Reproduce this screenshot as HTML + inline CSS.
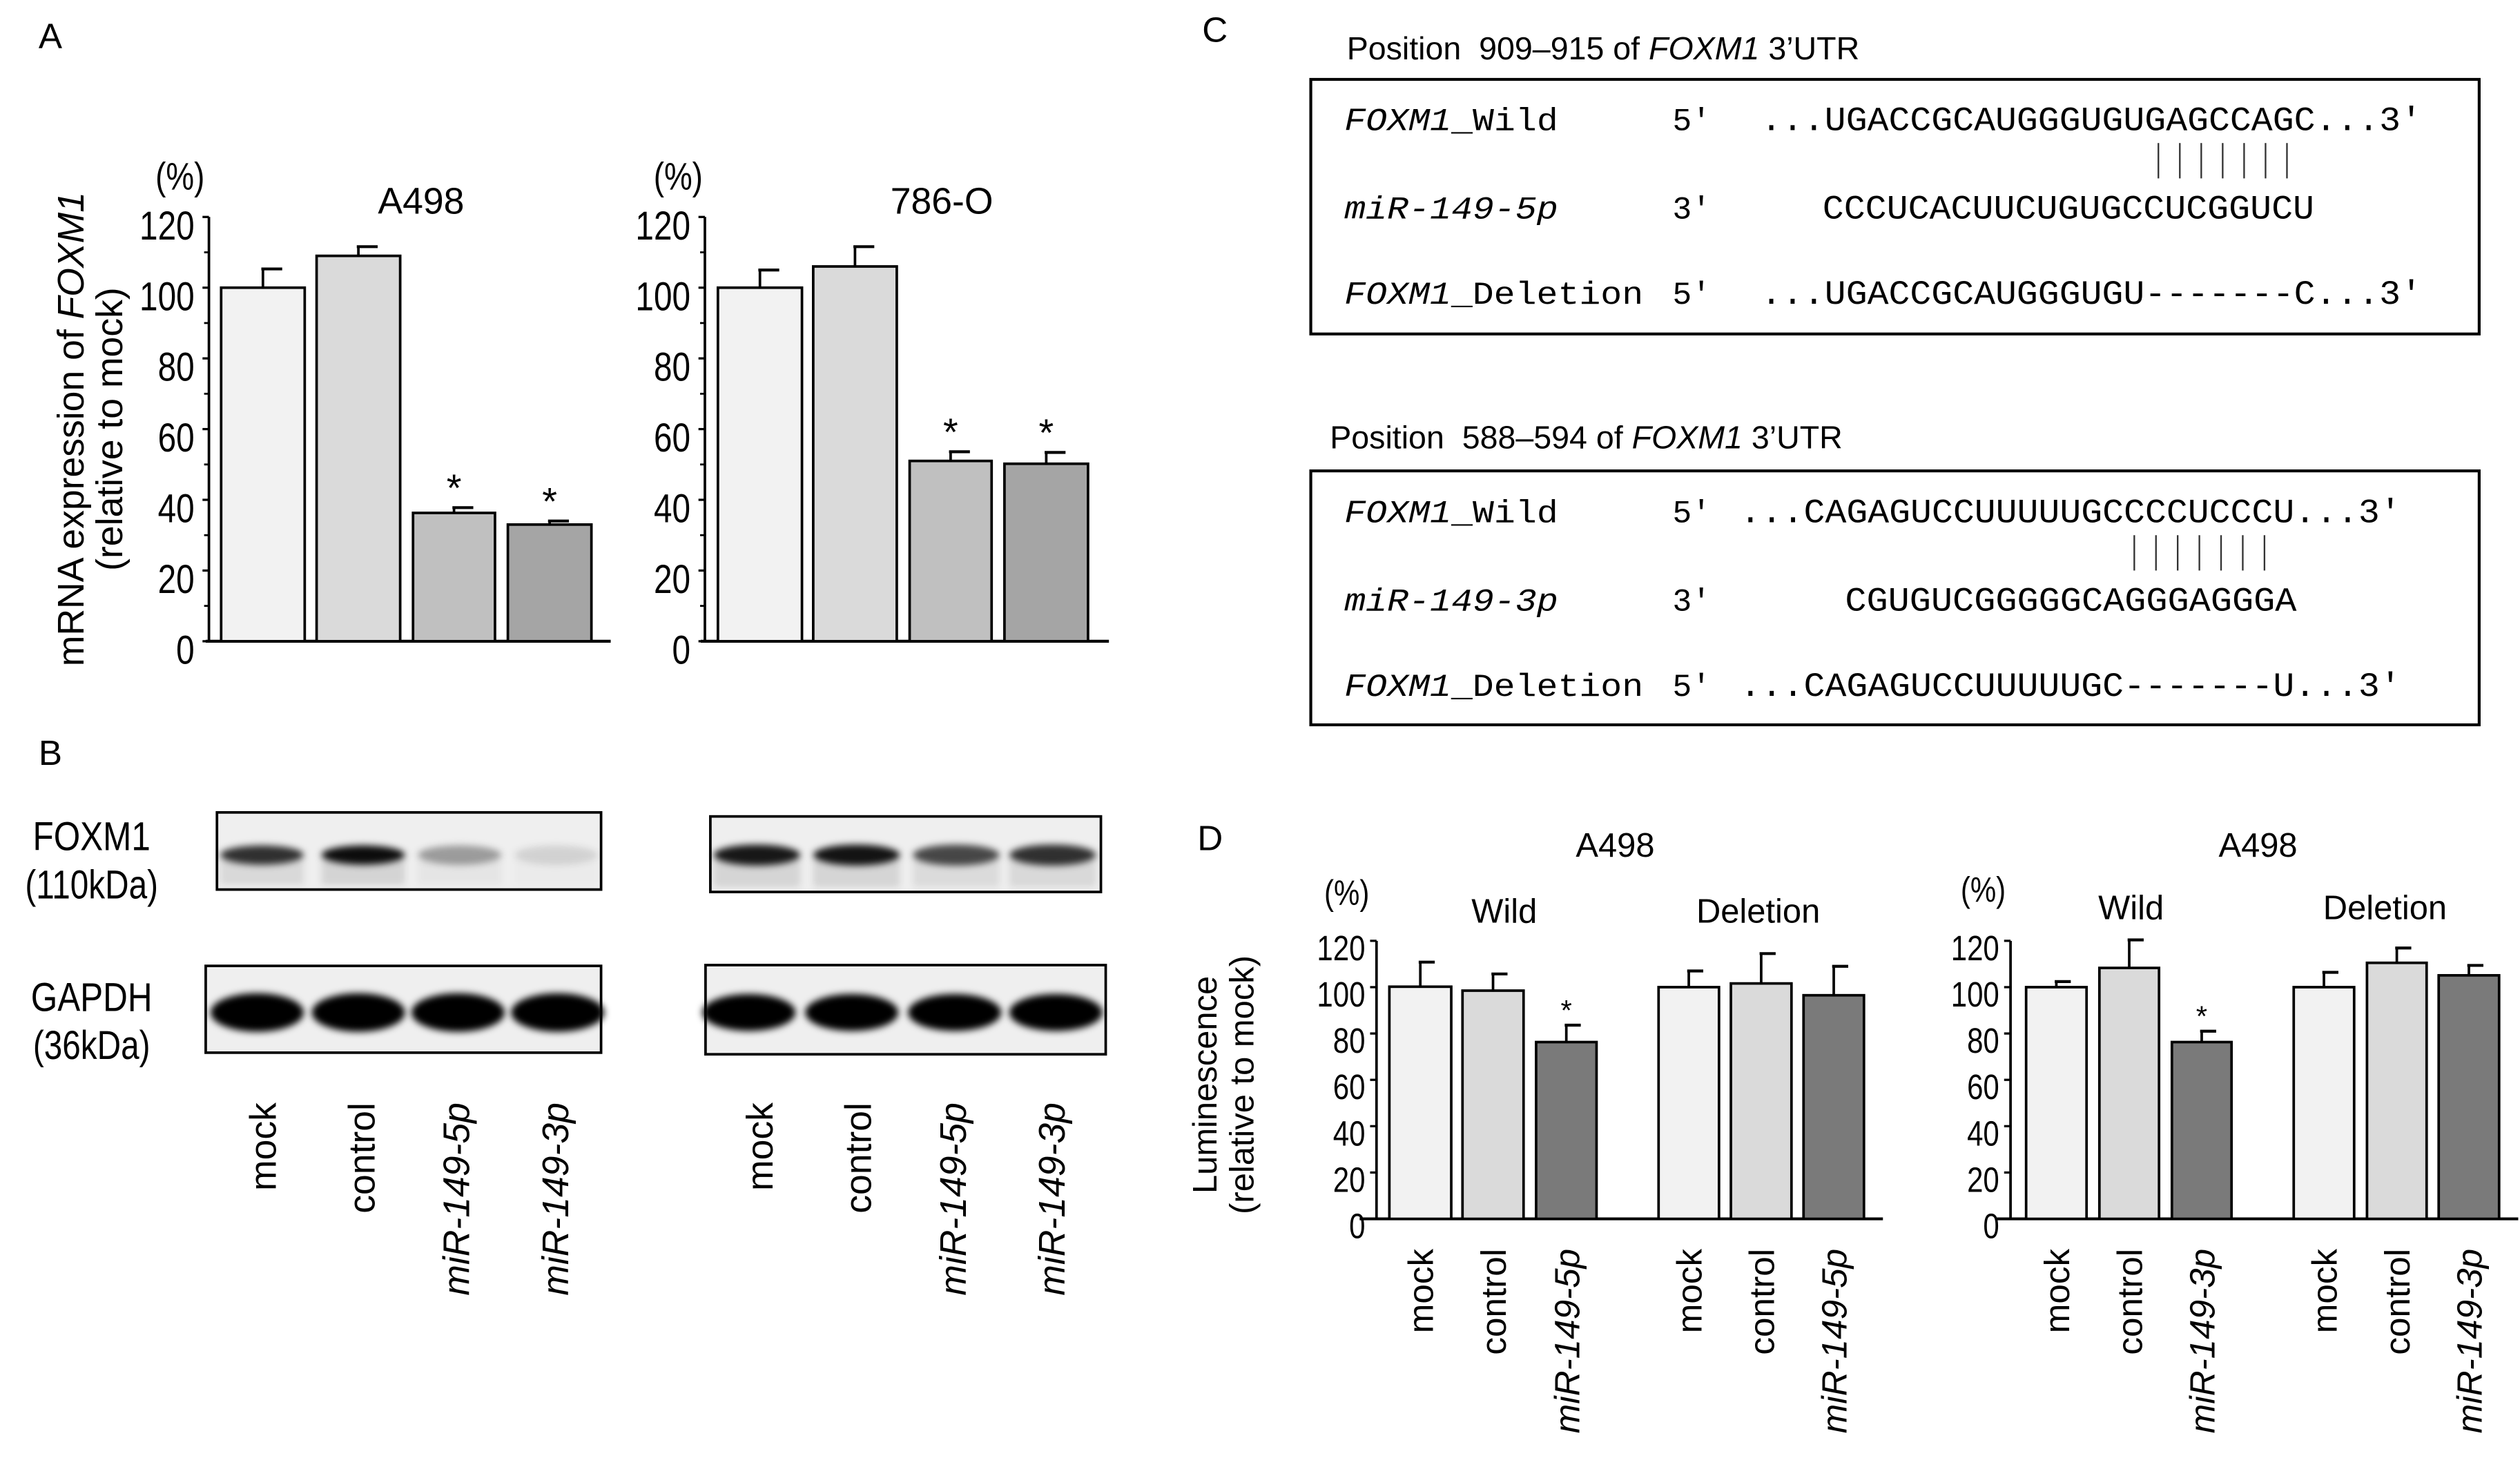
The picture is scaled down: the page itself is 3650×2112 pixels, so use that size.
<!DOCTYPE html>
<html><head><meta charset="utf-8"><style>
html,body{margin:0;padding:0;background:#fff}
svg{display:block}
text{font-family:"Liberation Sans",sans-serif;fill:#000}
.mono{font-family:"Liberation Mono",monospace}
</style></head><body>
<svg id="fig" xmlns="http://www.w3.org/2000/svg" width="3650" height="2112" viewBox="0 0 1568 907.2" preserveAspectRatio="none">
<defs><filter id="blur" x="-20%" y="-50%" width="140%" height="200%"><feGaussianBlur stdDeviation="2.2"/></filter></defs>
<g id="root"></g>
</svg>
<script>
// ---- Panel A data ----
const aCats = ['mock','control','miR-149-5p','miR-149-3p'];
const aA498 = [100, 109, 36.3, 33];
const aA498Err = [105.3, 111.6, 37.8, 34];
const a786 = [100, 106, 51, 50.2];
const a786Err = [105, 111.6, 53.6, 53.4];
const aTicks = [0,20,40,60,80,100,120];
// ---- Panel D data ----
const dCats = ['mock','control','miR','mock','control','miR'];
const d5p = [100.2, 98.5, 76.3, 100, 101.6, 96.5];
const d5pErr = [110.8, 105.7, 83.6, 107, 114.5, 109];
const d3p = [100, 108.3, 76.3, 100, 110.5, 105.1];
const d3pErr = [102.4, 120.4, 81, 106.4, 116.9, 109.4];
const dTicks = [0,20,40,60,80,100,120];

const NS='http://www.w3.org/2000/svg';
const root=document.getElementById('root');
function el(tag,attrs,parent,txt){const e=document.createElementNS(NS,tag);for(const k in attrs)e.setAttribute(k,attrs[k]);if(txt!==undefined)e.textContent=txt;(parent||root).appendChild(e);return e;}
function grp(name){const g=el('g',{});return g;}

function barChart(cfg){
  const g=grp(cfg.name);
  const y=v=>cfg.y0-(v/120)*(cfg.y0-cfg.y120);
  const ax=el('line',{x1:cfg.ax,y1:cfg.y120,x2:cfg.ax,y2:cfg.y0,stroke:'#000','stroke-width':1.6},g);
  
  
  const bl=el('line',{x1:cfg.blx0,y1:cfg.y0,x2:cfg.blx1,y2:cfg.y0,stroke:'#000','stroke-width':1.8},g);
  
  
  cfg.ticks.forEach(t=>{
    const tk=el('line',{x1:cfg.ax-4,y1:y(t),x2:cfg.ax,y2:y(t),stroke:'#000','stroke-width':1.4},g);
    
    
    if(cfg.minor && t<120){const m=el('line',{x1:cfg.ax-3,y1:y(t+10),x2:cfg.ax,y2:y(t+10),stroke:'#000','stroke-width':1.2},g);
      
      }
    const lx=cfg.ax-cfg.lblGap, ly=y(t)+cfg.lblOff;
    const tl=el('text',{x:lx,y:ly,'text-anchor':'end','font-size':cfg.fs,transform:`translate(${lx},${ly}) scale(0.82,1) translate(${-lx},${-ly})`},g,String(t));
    
    
  });
  cfg.vals.forEach((v,i)=>{
    const x0=cfg.bx[i][0],x1=cfg.bx[i][1],cx=(x0+x1)/2;
    const e=cfg.err[i];
    const el1=el('line',{x1:cx,y1:y(v),x2:cx,y2:y(e),stroke:'#000','stroke-width':1.6},g);
    
    
    const el2=el('line',{x1:cx-1,y1:y(e),x2:cx+cfg.capW,y2:y(e),stroke:'#000','stroke-width':1.8},g);
    
    
    const r=el('rect',{x:x0,y:y(v),width:x1-x0,height:cfg.y0-y(v),fill:cfg.fills[i],stroke:'#000','stroke-width':1.6},g);
    
    
    if(cfg.star[i]){const s=el('text',{x:cx,y:y(e)-cfg.starGap,'text-anchor':'middle','font-size':cfg.starFs},g,'*');
      
      }
  });
  return g;
}

barChart({name:'chart-a498',ax:130,y0:399,y120:135,blx0:128,blx1:380,ticks:aTicks,minor:true,fs:25,lblOff:14,lblGap:9,
  vals:aA498,err:aA498Err,cats:aCats,bx:[[137.6,189.6],[197,249],[257,308],[316,368]],
  fills:['#f2f2f2','#dadada','#c0c0c0','#a5a5a5'],capW:12,star:[0,0,1,1],starGap:4,starFs:24});
barChart({name:'chart-786o',ax:438.6,y0:399,y120:135,blx0:436,blx1:690,ticks:aTicks,minor:true,fs:25,lblOff:14,lblGap:9,
  vals:a786,err:a786Err,cats:aCats,bx:[[446.7,499],[506,558],[566,617],[625,677]],
  fills:['#f2f2f2','#dadada','#c0c0c0','#a5a5a5'],capW:12,star:[0,0,1,1],starGap:4,starFs:24});

barChart({name:'chart-d-5p',ax:856.5,y0:758.4,y120:585.4,blx0:846,blx1:1171.6,ticks:dTicks,minor:false,fs:22,lblOff:12,lblGap:7,
  vals:d5p,err:d5pErr,cats:dCats.map((c,i)=>c+i),bx:[[864.5,903],[910,948],[955.8,993.4],[1032,1069.6],[1077,1114.7],[1122.2,1159.8]],
  fills:['#f2f2f2','#dadada','#7a7a7a','#f2f2f2','#dadada','#7a7a7a'],capW:9,star:[0,0,1,0,0,0],starGap:3,starFs:18});
barChart({name:'chart-d-3p',ax:1251,y0:758.4,y120:585.4,blx0:1241.4,blx1:1566.9,ticks:dTicks,minor:false,fs:22,lblOff:12,lblGap:7,
  vals:d3p,err:d3pErr,cats:dCats.map((c,i)=>c+i),bx:[[1260.7,1298.3],[1306.3,1343.4],[1351.4,1388.5],[1427.2,1464.8],[1472.8,1509.9],[1517.4,1555]],
  fills:['#f2f2f2','#dadada','#7a7a7a','#f2f2f2','#dadada','#7a7a7a'],capW:9,star:[0,0,1,0,0,0],starGap:3,starFs:18});

function T(name,x,y,s,fs,extra){const t=el('text',Object.assign({x:x,y:y,'font-size':fs},extra||{}));t.innerHTML=s;return t;}
function cond(x,y,sx){return `translate(${x},${y}) scale(${sx},1) translate(${-x},${-y})`;}

T('panel-label-a',24,30,'A',22);
T('percent-unit',112,118,'(%)',24,{'text-anchor':'middle',transform:cond(112,118,0.82)});
T('percent-unit',422,118,'(%)',24,{'text-anchor':'middle',transform:cond(422,118,0.82)});
T('chart-title',262,133,'A498',23,{'text-anchor':'middle'});
T('chart-title',586,133,'786-O',23,{'text-anchor':'middle'});
T('y-axis-title',52,267,'mRNA expression of <tspan font-style="italic">FOXM1</tspan>',23,{'text-anchor':'middle',transform:'rotate(-90 52 267)'});
T('y-axis-title',76,267,'(relative to mock)',23,{'text-anchor':'middle',transform:'rotate(-90 76 267)'});

T('panel-label-b',24,476,'B',22);
T('blot-label',57,529,'FOXM1',25,{'text-anchor':'middle',transform:cond(57,529,0.85)});
T('blot-label',57,559,'(110kDa)',25,{'text-anchor':'middle',transform:cond(57,559,0.82)});
T('blot-label',57,629,'GAPDH',25,{'text-anchor':'middle',transform:cond(57,629,0.85)});
T('blot-label',57,659,'(36kDa)',25,{'text-anchor':'middle',transform:cond(57,659,0.82)});
const foxInt1=[0.8,0.95,0.35,0.12], foxInt2=[0.9,0.92,0.7,0.8];
function blot(name,x0,x1,y0,y1,lanes,bandY,ints,rx,ry){
  const g=grp(name);
  const r=el('rect',{x:x0,y:y0,width:x1-x0,height:y1-y0,fill:'#efefef',stroke:'#000','stroke-width':1.6},g);
  
  
  lanes.forEach((lx,i)=>{
    const b=el('ellipse',{cx:lx,cy:bandY,rx:rx,ry:ry,fill:'#000','fill-opacity':ints[i],filter:'url(#blur)'},g);
    
    
    if(ry<10){const sm=el('rect',{x:lx-rx,y:bandY+3,width:2*rx,height:y1-bandY-6,fill:'#000','fill-opacity':ints[i]*0.12,filter:'url(#blur)'},g);
      
      }
  });
}
blot('foxm1-blot-a498',135,374,505.5,553.5,[163,226,286,346],532,foxInt1,26,6);
blot('foxm1-blot-786o',442,685,508,555,[471,533,595,655],532,foxInt2,27,6.5);
blot('gapdh-blot-a498',128,374,601,655,[160,223,285,347],630,[1,1,1,1],29,12);
blot('gapdh-blot-786o',439,688,600.5,656,[466,530,594,657],630,[1,1,1,1],29,11.5);
const laneNames=['mock','control','<tspan font-style="italic">miR-149-5p</tspan>','<tspan font-style="italic">miR-149-3p</tspan>'];
const laneX=[163.6,225,284,345.5,472.7,534,593,654.5];
laneX.forEach((x,i)=>{T('lane-label',x+8,686,laneNames[i%4],23,{'text-anchor':'end',transform:`rotate(-90 ${x+8} 686)`});});

T('panel-label-c',748,26,'C',22);
function seqBox(name,title,ty,by0,by1,rows){
  T('seq-box-title',title.x,ty,title.s,20);
  const g=grp(name);
  const r=el('rect',{x:815.6,y:by0,width:727,height:by1-by0,fill:'none',stroke:'#000','stroke-width':1.8},g);
  
  
  rows.forEach(rw=>{
    if(rw.name){const t=el('text',{x:836.5,y:rw.y,'font-size':20,'class':'mono',fill:'#444',textLength:rw.nl,lengthAdjust:'spacingAndGlyphs'},g);t.innerHTML=rw.name;}
    if(rw.end){const t=el('text',{x:1040.6,y:rw.y,'font-size':20,'class':'mono',fill:'#333'},g,rw.end);}
    if(rw.pipes){
      for(let k=0;k<7;k++){const px=rw.sx0+k*(rw.sx1-rw.sx0)/6;
        const p=el('line',{x1:px,y1:rw.y-22,x2:px,y2:rw.y,stroke:'#333','stroke-width':1},g);
        
        }
      return;
    }
    const t=el('text',{x:rw.sx0,y:rw.y,'font-size':21,'class':'mono',fill:'#222',textLength:rw.sx1-rw.sx0,lengthAdjust:'spacingAndGlyphs'},g,rw.seq);
    
    
  });
}
seqBox('seq-box-5p',{x:838,s:'Position&#160; 909–915 of <tspan font-style="italic">FOXM1</tspan> 3’UTR'},37,49.4,207.8,[
 {name:'<tspan font-style="italic">FOXM1</tspan>_Wild',nl:133,end:'5′',y:81,seq:'...UGACCGCAUGGGUGUGAGCCAGC...3′',sx0:1095.5,sx1:1507},
 {y:111,pipes:true,sx0:1343,sx1:1423},
 {name:'<tspan font-style="italic">miR-149-5p</tspan>',nl:133,end:'3′',y:136,seq:'CCCUCACUUCUGUGCCUCGGUCU',sx0:1134,sx1:1440},
 {name:'<tspan font-style="italic">FOXM1</tspan>_Deletion',nl:186,end:'5′',y:189,seq:'...UGACCGCAUGGGUGU-------C...3′',sx0:1095.5,sx1:1507}]);
seqBox('seq-box-3p',{x:827.5,s:'Position&#160; 588–594 of <tspan font-style="italic">FOXM1</tspan> 3’UTR'},279,293,451,[
 {name:'<tspan font-style="italic">FOXM1</tspan>_Wild',nl:133,end:'5′',y:325,seq:'...CAGAGUCCUUUUUGCCCCUCCCU...3′',sx0:1082.5,sx1:1494},
 {y:355,pipes:true,sx0:1328,sx1:1409},
 {name:'<tspan font-style="italic">miR-149-3p</tspan>',nl:133,end:'3′',y:380,seq:'CGUGUCGGGGGCAGGGAGGGA',sx0:1148,sx1:1429},
 {name:'<tspan font-style="italic">FOXM1</tspan>_Deletion',nl:186,end:'5′',y:433,seq:'...CAGAGUCCUUUUUGC-------U...3′',sx0:1082.5,sx1:1494}]);

T('panel-label-d',745,529,'D',22);
T('chart-title',1005,533,'A498',21,{'text-anchor':'middle'});
T('chart-title',1405,533,'A498',21,{'text-anchor':'middle'});
T('percent-unit',838,563,'(%)',22,{'text-anchor':'middle',transform:cond(838,563,0.82)});
T('percent-unit',1234,561,'(%)',22,{'text-anchor':'middle',transform:cond(1234,561,0.82)});
T('group-label',936,574,'Wild',21,{'text-anchor':'middle'});
T('group-label',1094,574,'Deletion',21,{'text-anchor':'middle'});
T('group-label',1326,572,'Wild',21,{'text-anchor':'middle'});
T('group-label',1484,572,'Deletion',21,{'text-anchor':'middle'});
T('y-axis-title',757,675,'Luminescence',21,{'text-anchor':'middle',transform:'rotate(-90 757 675)'});
T('y-axis-title',780,675,'(relative to mock)',21,{'text-anchor':'middle',transform:'rotate(-90 780 675)'});
const dLblX=[883.7,929,974.6,1050.8,1095.8,1141,1279.5,1324.8,1370,1446,1491.3,1536.2];
const dNames=['mock','control','<tspan font-style="italic">miR-149-5p</tspan>','mock','control','<tspan font-style="italic">miR-149-5p</tspan>','mock','control','<tspan font-style="italic">miR-149-3p</tspan>','mock','control','<tspan font-style="italic">miR-149-3p</tspan>'];
dLblX.forEach((x,i)=>{T('x-tick-label',x+8,777,dNames[i],22,{'text-anchor':'end',transform:`rotate(-90 ${x+8} 777)`});});
</script>
</body></html>
